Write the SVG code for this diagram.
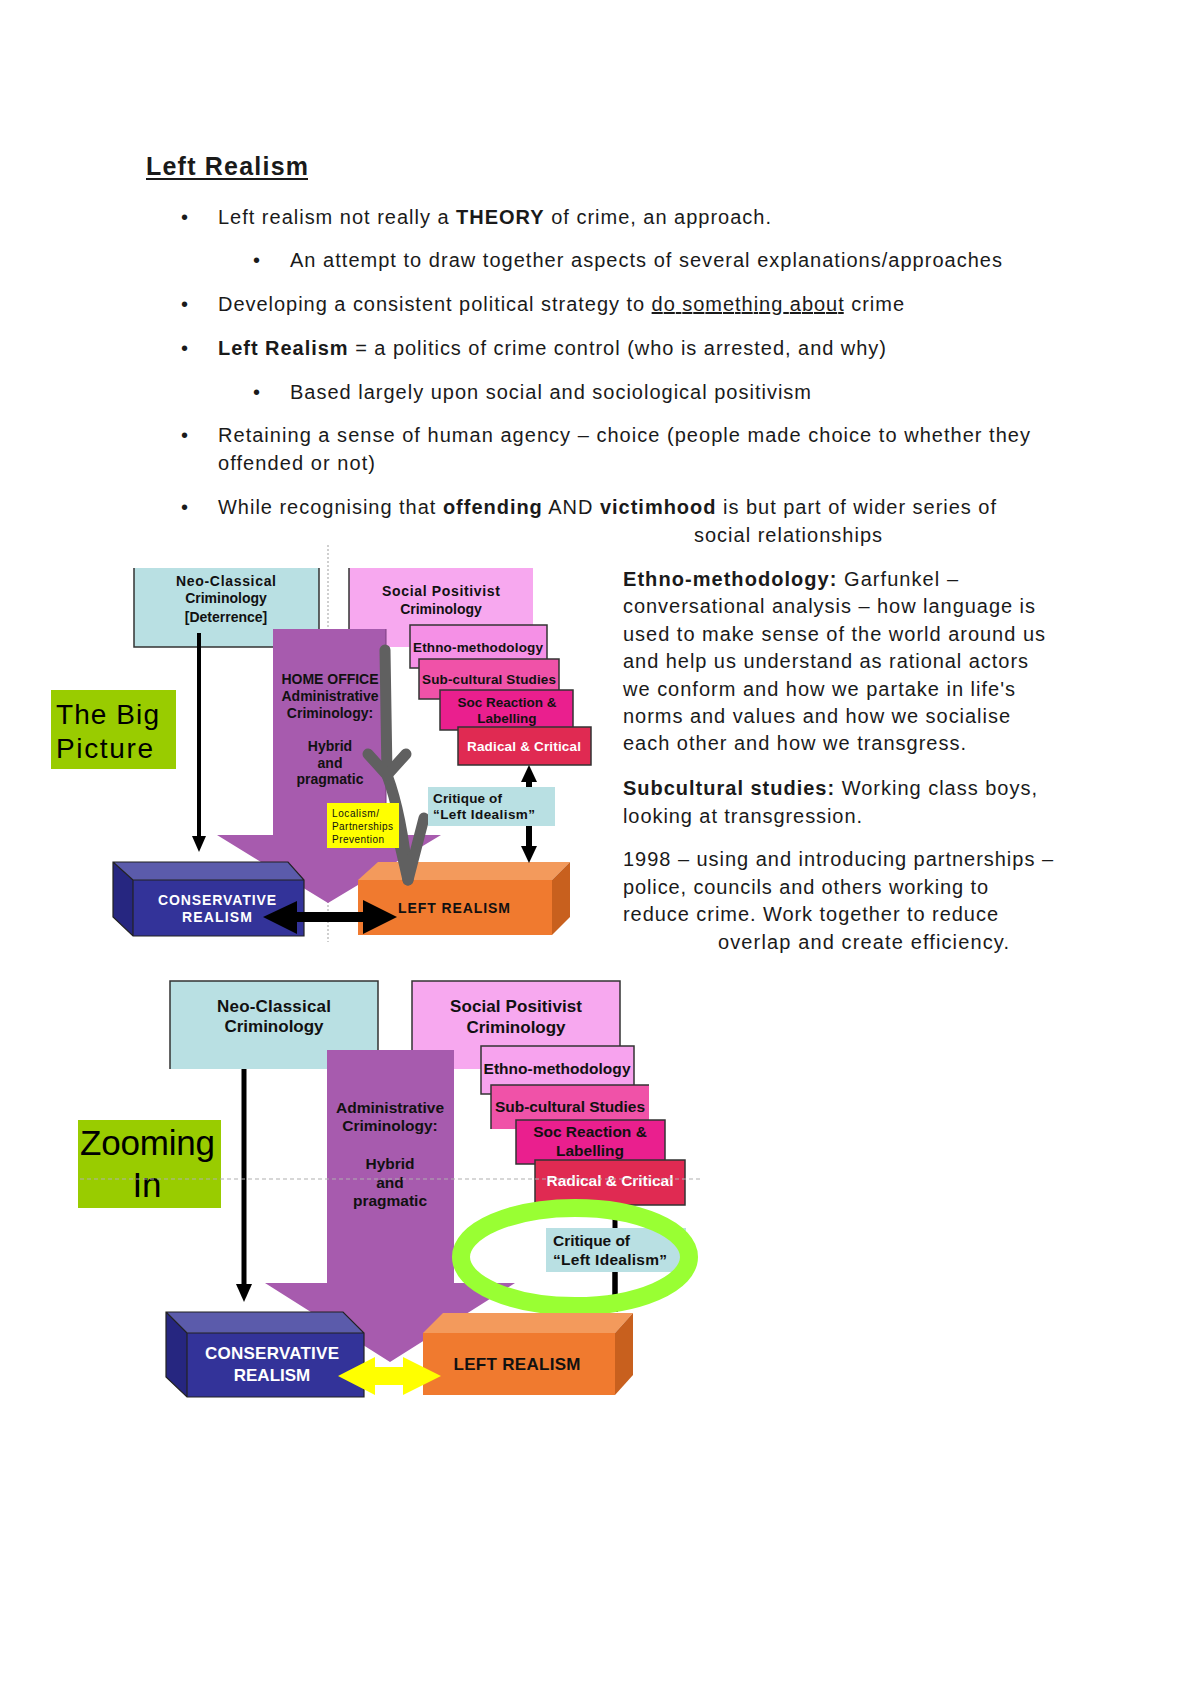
<svg xmlns="http://www.w3.org/2000/svg" width="1200" height="1698" viewBox="0 0 1200 1698">
<style>
.doc{font-family:"Liberation Sans",Arial,sans-serif;font-size:20px;fill:#1a1a1a}
.b{font-weight:bold}
.lbl{font-family:"Liberation Sans",Arial,sans-serif;font-weight:bold;fill:#111;text-anchor:middle}
.lbl.st{text-anchor:start}
.s1{font-size:14px}
.w{fill:#fff}
.edge{fill:none;stroke:#333;stroke-width:1.5}
.blue{fill:#b9e0e3}
.pink{fill:#f7a8ef}
.ethno{fill:#f590e6}
.sub{fill:#f052a8}
.soc{fill:#ea1f8e}
.rad{fill:#e02a52}
.purple{fill:#a75bae}
.green{fill:#99cc00}
.big{font-family:"Liberation Sans",Arial,sans-serif;fill:#000}
.small{font-family:"Liberation Sans",Arial,sans-serif;font-size:10px;fill:#111}
</style>
<rect width="1200" height="1698" fill="#fff"/>

<!-- Document text -->
<g id="text-main" class="doc">
<text x="146" y="175" class="b" font-size="25" textLength="162">Left Realism</text>
<rect x="146" y="178" width="162" height="2" fill="#1a1a1a"/>
<text x="181" y="224">•</text>
<text x="218" y="224" textLength="553">Left realism not really a <tspan class="b">THEORY</tspan> of crime, an approach.</text>
<text x="253" y="267">•</text>
<text x="290" y="267" textLength="712">An attempt to draw together aspects of several explanations/approaches</text>
<text x="181" y="311">•</text>
<text x="218" y="311" textLength="686">Developing a consistent political strategy to <tspan text-decoration="underline">do something about</tspan> crime</text>
<text x="181" y="355">•</text>
<text x="218" y="355" textLength="668"><tspan class="b">Left Realism</tspan> = a politics of crime control (who is arrested, and why)</text>
<text x="253" y="399">•</text>
<text x="290" y="399" textLength="521">Based largely upon social and sociological positivism</text>
<text x="181" y="442">•</text>
<text x="218" y="442" textLength="812">Retaining a sense of human agency – choice (people made choice to whether they</text>
<text x="218" y="470" textLength="157">offended or not)</text>
<text x="181" y="514">•</text>
<text x="218" y="514" textLength="778">While recognising that <tspan class="b">offending</tspan> AND <tspan class="b">victimhood</tspan> is but part of wider series of</text>
<text x="694" y="542" textLength="188">social relationships</text>
</g>

<g id="text-side" class="doc">
<text x="623" y="586" textLength="335"><tspan class="b">Ethno-methodology:</tspan> Garfunkel –</text>
<text x="623" y="613" textLength="412">conversational analysis – how language is</text>
<text x="623" y="641" textLength="422">used to make sense of the world around us</text>
<text x="623" y="668" textLength="405">and help us understand as rational actors</text>
<text x="623" y="696" textLength="392">we conform and how we partake in life's</text>
<text x="623" y="723" textLength="387">norms and values and how we socialise</text>
<text x="623" y="750" textLength="343">each other and how we transgress.</text>
<text x="623" y="795" textLength="414"><tspan class="b">Subcultural studies:</tspan> Working class boys,</text>
<text x="623" y="823" textLength="239">looking at transgression.</text>
<text x="623" y="866" textLength="430">1998 – using and introducing partnerships –</text>
<text x="623" y="894" textLength="365">police, councils and others working to</text>
<text x="623" y="921" textLength="375">reduce crime. Work together to reduce</text>
<text x="718" y="949" textLength="291">overlap and  create efficiency.</text>
</g>

<!-- ===== Diagram 1: The Big Picture ===== -->
<line x1="328" y1="545" x2="328" y2="942" stroke="#b0b0b0" stroke-width="1.2" stroke-dasharray="2,2"/>

<g id="big-picture">
<rect x="51" y="690" width="125" height="79" class="green"/>
<text x="56" y="724" class="big" font-size="28" textLength="103">The Big</text>
<text x="56" y="758" class="big" font-size="28" textLength="97">Picture</text>
</g>

<g id="neo1">
<rect x="134" y="568" width="185" height="79" class="blue"/>
<polyline points="134,568 134,647 319,647 319,568" class="edge"/>
<text x="226" y="586" class="lbl s1" textLength="100">Neo-Classical</text>
<text x="226" y="603" class="lbl s1">Criminology</text>
<text x="226" y="622" class="lbl s1">[Deterrence]</text>
</g>

<g id="social1">
<rect x="349" y="568" width="184" height="79" class="pink"/>
<polyline points="349,568 349,647" class="edge"/>
<text x="441" y="596" class="lbl s1" textLength="118">Social Positivist</text>
<text x="441" y="614" class="lbl s1">Criminology</text>
</g>

<g id="admin1">
<polygon points="273,629 386,629 386,835 441,835 328,903 217,835 273,835" class="purple"/>
<line x1="386" y1="629" x2="386" y2="835" stroke="#7a3d80" stroke-width="1"/>
<text x="330" y="684" class="lbl s1" textLength="97">HOME OFFICE</text>
<text x="330" y="701" class="lbl s1" textLength="97">Administrative</text>
<text x="330" y="718" class="lbl s1">Criminology:</text>
<text x="330" y="751" class="lbl s1">Hybrid</text>
<text x="330" y="768" class="lbl s1">and</text>
<text x="330" y="784" class="lbl s1">pragmatic</text>
</g>

<g id="ethno1">
<rect x="410" y="625" width="137" height="43" class="ethno"/>
<rect x="410" y="625" width="137" height="43" class="edge"/>
<text x="478" y="652" class="lbl" font-size="13.5" textLength="130">Ethno-methodology</text>
</g>
<g id="subcult1">
<rect x="419" y="659" width="140" height="40" class="sub"/>
<rect x="419" y="659" width="140" height="40" class="edge"/>
<text x="489" y="684" class="lbl" font-size="13.5" textLength="134">Sub-cultural Studies</text>
</g>
<g id="socreact1">
<rect x="440" y="690" width="133" height="40" class="soc"/>
<rect x="440" y="690" width="133" height="40" class="edge"/>
<text x="507" y="707" class="lbl" font-size="13.5">Soc Reaction &amp;</text>
<text x="507" y="723" class="lbl" font-size="13.5">Labelling</text>
</g>
<g id="radical1">
<rect x="458" y="727" width="133" height="38" class="rad"/>
<rect x="458" y="727" width="133" height="38" class="edge"/>
<text x="524" y="751" class="lbl w" font-size="13.5" textLength="114">Radical &amp; Critical</text>
</g>

<g id="conservative1">
<polygon points="113,862 288,862 304,880 133,880" fill="#5b5bab"/>
<polygon points="113,862 133,880 133,936 113,917" fill="#262680"/>
<rect x="133" y="880" width="171" height="56" fill="#333399"/>
<path d="M113,862 L288,862 L304,880 L304,936 L133,936 L113,917 Z M133,880 L304,880 M133,880 L113,862 M133,880 L133,936" fill="none" stroke="#222" stroke-width="1.2"/>
<text x="217" y="905" class="lbl s1 w" textLength="118">CONSERVATIVE</text>
<text x="217" y="922" class="lbl s1 w" textLength="70">REALISM</text>
</g>

<g id="leftrealism1">
<polygon points="358,880 378,862 570,862 552,880" fill="#f39a5c"/>
<polygon points="552,880 570,862 570,917 552,935" fill="#c8601e"/>
<rect x="358" y="880" width="194" height="55" fill="#f07a2f"/>
<text x="454" y="913" class="lbl s1" textLength="112">LEFT REALISM</text>
</g>

<g id="connectors">
<!-- diagram 1 -->
<line x1="199" y1="633" x2="199" y2="840" stroke="#000" stroke-width="4"/>
<polygon points="192,836 206,836 199,852" fill="#000"/>
<line x1="529" y1="778" x2="529" y2="850" stroke="#000" stroke-width="6"/>
<polygon points="521,782 537,782 529,765" fill="#000"/>
<polygon points="521,846 537,846 529,863" fill="#000"/>
<polygon points="263,917 297,901 297,912 363,912 363,900 397,917 363,934 363,922 297,922 297,934" fill="#000"/>
<g fill="none" stroke="#606060" stroke-width="11" stroke-linecap="round" stroke-linejoin="round">
<path d="M385,650 L387,775 Q402,815 408,880"/>
<path d="M368,754 L387,775 L406,754"/>
<path d="M424,818 L408,880 L397,832"/>
</g>
<!-- diagram 2 -->
<line x1="244" y1="1056" x2="244" y2="1288" stroke="#000" stroke-width="5"/>
<polygon points="236,1284 252,1284 244,1302" fill="#000"/>
<line x1="615" y1="1205" x2="615" y2="1312" stroke="#000" stroke-width="5"/>
</g>

<g id="localism1">
<rect x="327" y="803" width="72" height="45" fill="#ffff00"/>
<text x="332" y="817" class="small" textLength="47">Localism/</text>
<text x="332" y="830" class="small" textLength="61">Partnerships</text>
<text x="332" y="843" class="small" textLength="52">Prevention</text>
</g>

<g id="critique1">
<rect x="428" y="787" width="127" height="39" class="blue"/>
<text x="433" y="803" class="lbl st" font-size="13.5" textLength="69">Critique of</text>
<text x="433" y="819" class="lbl st" font-size="13.5" textLength="102">“Left  Idealism”</text>
</g>

<!-- ===== Diagram 2: Zooming In ===== -->
<g id="neo2">
<rect x="170" y="981" width="208" height="88" class="blue"/>
<polyline points="170,1069 170,981 378,981 378,1069" class="edge"/>
<text x="274" y="1012" class="lbl" font-size="17" textLength="114">Neo-Classical</text>
<text x="274" y="1032" class="lbl" font-size="17">Criminology</text>
</g>

<g id="social2">
<rect x="412" y="981" width="208" height="88" class="pink"/>
<polyline points="412,1069 412,981 620,981 620,1046" class="edge"/>
<text x="516" y="1012" class="lbl" font-size="17" textLength="132">Social Positivist</text>
<text x="516" y="1033" class="lbl" font-size="17">Criminology</text>
</g>

<g id="zooming-in">
<rect x="78" y="1120" width="143" height="88" class="green"/>
<text x="80" y="1155" class="big" font-size="35" textLength="135">Zooming</text>
<text x="147" y="1197" class="big" font-size="35" text-anchor="middle">In</text>
</g>

<g id="admin2">
<polygon points="327,1050 454,1050 454,1283 515,1283 390,1362 265,1283 327,1283" class="purple"/>
<text x="390" y="1113" class="lbl" font-size="15.5" textLength="108">Administrative</text>
<text x="390" y="1131" class="lbl" font-size="15.5">Criminology:</text>
<text x="390" y="1169" class="lbl" font-size="15.5">Hybrid</text>
<text x="390" y="1188" class="lbl" font-size="15.5">and</text>
<text x="390" y="1206" class="lbl" font-size="15.5">pragmatic</text>
</g>

<g id="ethno2">
<rect x="481" y="1046" width="153" height="48" fill="#f7a3ee"/>
<rect x="481" y="1046" width="153" height="48" class="edge"/>
<text x="557" y="1074" class="lbl" font-size="15.5" textLength="147">Ethno-methodology</text>
</g>
<g id="subcult2">
<rect x="491" y="1085" width="158" height="44" class="sub"/>
<polyline points="491,1129 491,1085 649,1085" class="edge"/>
<text x="570" y="1112" class="lbl" font-size="15.5" textLength="150">Sub-cultural  Studies</text>
</g>
<g id="socreact2">
<rect x="516" y="1120" width="149" height="44" class="soc"/>
<rect x="516" y="1120" width="149" height="44" class="edge"/>
<text x="590" y="1137" class="lbl" font-size="15.5">Soc Reaction &amp;</text>
<text x="590" y="1156" class="lbl" font-size="15.5">Labelling</text>
</g>
<g id="radical2">
<rect x="535" y="1160" width="150" height="45" class="rad"/>
<rect x="535" y="1160" width="150" height="45" class="edge"/>
<text x="610" y="1186" class="lbl w" font-size="15.5" textLength="127">Radical &amp; Critical</text>
</g>

<line x1="80" y1="1179" x2="702" y2="1179" stroke="#b0b0b0" stroke-width="1.2" stroke-dasharray="4,3"/>

<g id="critique2">
<rect x="546" y="1228" width="140" height="44" class="blue"/>
<line x1="615" y1="1272" x2="615" y2="1312" stroke="#000" stroke-width="5"/>
<text x="553" y="1246" class="lbl st" font-size="15.5" textLength="77">Critique of</text>
<text x="553" y="1265" class="lbl st" font-size="15.5" textLength="114">“Left  Idealism”</text>
</g>

<g id="highlight-ring">
<ellipse cx="575" cy="1257" rx="114" ry="49" fill="none" stroke="#99ff33" stroke-width="18"/>
</g>

<g id="conservative2">
<polygon points="166,1312 343,1312 364,1333 187,1333" fill="#5b5bab"/>
<polygon points="166,1312 187,1333 187,1397 166,1377" fill="#262680"/>
<rect x="187" y="1333" width="177" height="64" fill="#333399"/>
<path d="M166,1312 L343,1312 L364,1333 L364,1397 L187,1397 L166,1377 Z M187,1333 L364,1333 M187,1333 L166,1312 M187,1333 L187,1397" fill="none" stroke="#222" stroke-width="1.2"/>
<text x="272" y="1359" class="lbl w" font-size="17" textLength="134">CONSERVATIVE</text>
<text x="272" y="1381" class="lbl w" font-size="17">REALISM</text>
</g>

<g id="leftrealism2">
<polygon points="423,1333 443,1313 633,1313 615,1333" fill="#f39a5c"/>
<polygon points="615,1333 633,1313 633,1375 615,1395" fill="#c8601e"/>
<rect x="423" y="1333" width="192" height="62" fill="#f07a2f"/>
<text x="517" y="1370" class="lbl" font-size="17" textLength="127">LEFT REALISM</text>
</g>

<g id="connector-yellow">
<polygon points="338,1376 375,1357 375,1367 403,1367 403,1357 441,1376 403,1395 403,1385 375,1385 375,1395" fill="#ffff00"/>
</g>
</svg>
